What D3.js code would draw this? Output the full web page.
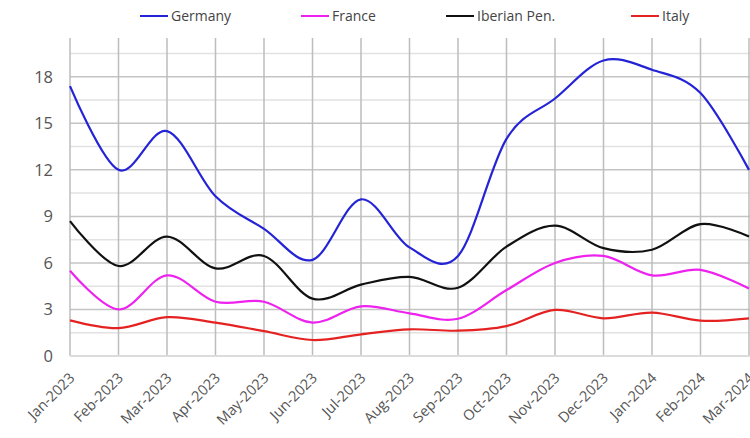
<!DOCTYPE html>
<html><head><meta charset="utf-8">
<script src="https://cdn.jsdelivr.net/npm/d3@7"></script>
<style>body{margin:0;background:#fff}svg{display:block}</style>
</head><body><svg id="c" width="750" height="438"></svg>
<script>
const months = ["Jan-2023","Feb-2023","Mar-2023","Apr-2023","May-2023","Jun-2023","Jul-2023","Aug-2023","Sep-2023","Oct-2023","Nov-2023","Dec-2023","Jan-2024","Feb-2024","Mar-2024"];
const germany = [17.4,12.0,14.5,10.3,8.2,6.2,10.1,7.0,6.45,14.0,16.6,19.05,18.45,16.95,12.0];
const france  = [5.5,3.0,5.2,3.5,3.5,2.15,3.2,2.75,2.4,4.25,6.0,6.45,5.2,5.55,4.35];
const iberian = [8.7,5.8,7.7,5.65,6.45,3.7,4.6,5.1,4.4,7.05,8.4,6.95,6.85,8.5,7.7];
const italy   = [2.3,1.8,2.5,2.15,1.6,1.03,1.4,1.72,1.63,1.93,2.97,2.43,2.8,2.28,2.43];
const yTicks = [0,3,6,9,12,15,18];
const yMinor = [1.5,4.5,7.5,10.5,13.5,16.5,19.5];
const seriesNames = ["Germany","France","Iberian Pen.","Italy"];
const seriesColors = ["#2424d6","#ee22ee","#111111","#e52222"];
const seriesData = [germany,france,iberian,italy];

const svg = d3.select("#c");
const x = d3.scalePoint().domain(months).range([70,749]);
const y = d3.scaleLinear().domain([0,20.5]).range([356,38]);

// grid
const g = svg.append("g");
g.selectAll(".hmin").data(yMinor).join("line")
  .attr("x1",70).attr("x2",750).attr("y1",d=>y(d)).attr("y2",d=>y(d))
  .attr("stroke","#e2e2e2").attr("stroke-width",1.5);
g.selectAll(".hmaj").data(yTicks.filter(d=>d>0)).join("line")
  .attr("x1",70).attr("x2",750).attr("y1",d=>y(d)).attr("y2",d=>y(d))
  .attr("stroke","#c4c4c4").attr("stroke-width",1.5);
g.selectAll(".v").data(months).join("line")
  .attr("x1",d=>x(d)).attr("x2",d=>x(d)).attr("y1",y(20.5)).attr("y2",y(0))
  .attr("stroke","#bdbdbd").attr("stroke-width",1.5);
g.append("line").attr("x1",70).attr("x2",750).attr("y1",y(0)).attr("y2",y(0))
  .attr("stroke","#dcdcdc").attr("stroke-width",2);

// y axis labels
const ya = svg.append("g").attr("transform","translate(53,0)")
  .call(d3.axisLeft(y).tickValues(yTicks).tickSize(0).tickPadding(0).tickFormat(d3.format("d")));
ya.select(".domain").remove();
ya.selectAll("text").attr("font-family","'Open Sans', sans-serif").attr("font-size",16.5).attr("fill","#555");

// x axis labels
const xa = svg.append("g").attr("transform",`translate(0,${y(0)})`)
  .call(d3.axisBottom(x).tickSize(0).tickPadding(0));
xa.select(".domain").remove();
xa.selectAll("text")
  .attr("font-family","'Open Sans', sans-serif").attr("font-size",14.5).attr("fill","#555")
  .attr("text-anchor","end").attr("dy",0)
  .attr("transform","translate(5,23) rotate(-45)");

// lines
const line = d3.line().x((d,i)=>x(months[i])).y(d=>y(d)).curve(d3.curveCatmullRom.alpha(0));
svg.append("g").selectAll("path").data(seriesData).join("path")
  .attr("d",d=>line(d)).attr("fill","none")
  .attr("stroke",(d,i)=>seriesColors[i]).attr("stroke-width",2.2);

// legend
const legX = [140,301,446,631];
const lg = svg.append("g").selectAll("g").data(seriesNames).join("g")
  .attr("transform",(d,i)=>`translate(${legX[i]},16)`);
lg.append("line").attr("x1",0).attr("x2",28).attr("y1",0).attr("y2",0)
  .attr("stroke",(d,i)=>seriesColors[i]).attr("stroke-width",2);
lg.append("text").attr("x",31).attr("y",0).attr("dy","0.35em")
  .attr("font-family","'Open Sans', sans-serif").attr("font-size",14).attr("fill","#444")
  .text(d=>d);
</script></body></html>
